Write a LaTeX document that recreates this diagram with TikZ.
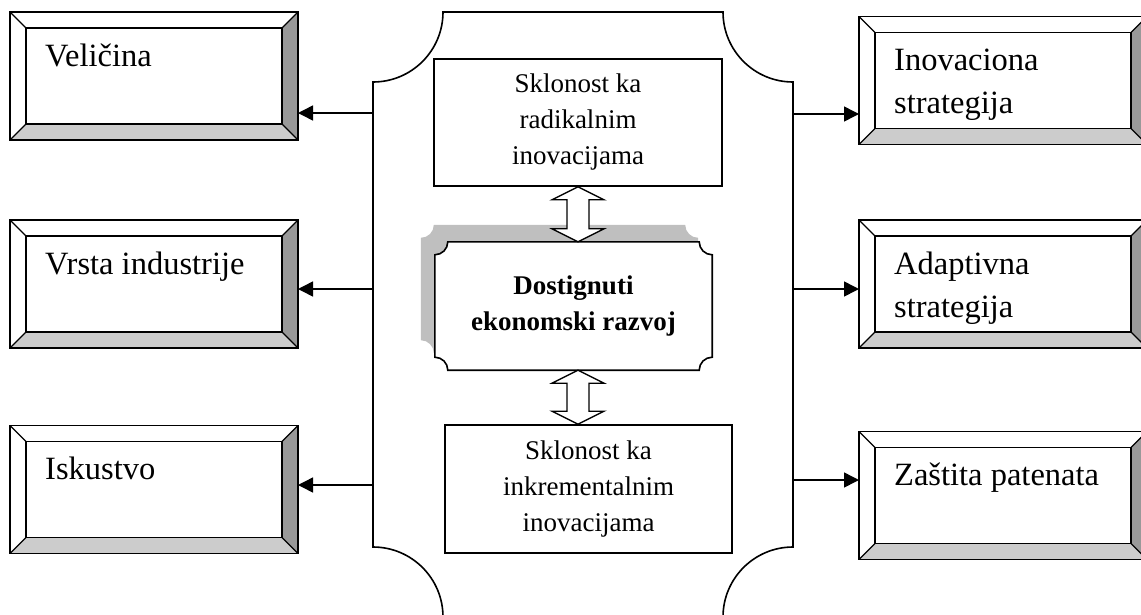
\documentclass[tikz,border=0pt]{standalone}
\usepackage{fontspec}
\setmainfont{Liberation Serif}
\usetikzlibrary{arrows.meta,backgrounds}

\definecolor{bevlight}{gray}{0.8}
\definecolor{bevdark}{gray}{0.6}
\definecolor{shadowgray}{gray}{0.75}

% concave cornered outline around a node, shifted by #3
\newcommand\scrollshape[3]{%
  \path[#1] ([shift={#3},xshift=13pt]#2.north west) -- ([shift={#3},xshift=-13pt]#2.north east)
    arc[start angle=180,end angle=270,radius=13pt]
    -- ([shift={#3},yshift=13pt]#2.south east)
    arc[start angle=90,end angle=180,radius=13pt]
    -- ([shift={#3},xshift=13pt]#2.south west)
    arc[start angle=0,end angle=90,radius=13pt]
    -- ([shift={#3},yshift=-13pt]#2.north west)
    arc[start angle=-90,end angle=0,radius=13pt] -- cycle;}

% hollow double arrow from top tip #1 to bottom tip #2
\newcommand\dblarrow[2]{%
  \filldraw[hollow] (#1) -- ++(26pt,-13pt) -- ++(-15pt,0pt) -- ([shift={(11pt,13pt)}]#2)
    -- ++(15pt,0pt) -- (#2) -- ++(-26pt,13pt) -- ++(15pt,0pt)
    -- ([shift={(-11pt,-13pt)}]#1) -- ++(-15pt,0pt) -- cycle;}

\tikzset{
  bevelbox/.style={draw, line width=1.6pt, minimum width=288pt, minimum height=128pt,
    inner sep=0pt, outer sep=0pt,
    path picture={
      \coordinate (bsw) at (path picture bounding box.south west);
      \coordinate (bne) at (path picture bounding box.north east);
      \coordinate (bse) at (bne |- bsw);
      \coordinate (bnw) at (bsw |- bne);
      \fill[bevdark] (bse) -- (bne) -- ++(-16pt,-16pt) -- ([shift={(-16pt,16pt)}]bse) -- cycle;
      \fill[bevlight] (bsw) -- (bse) -- ++(-16pt,16pt) -- ([shift={(16pt,16pt)}]bsw) -- cycle;
      \draw[line width=1.6pt] ([shift={(16pt,16pt)}]bsw) rectangle ([shift={(-16pt,-16pt)}]bne);
      \draw[line width=1.1pt] (bsw) -- ++(16pt,16pt) (bse) -- ++(-16pt,16pt)
        (bne) -- ++(-16pt,-16pt) (bnw) -- ++(16pt,-16pt);
    }},
  boxtext/.style={anchor=base west, align=left, inner sep=0pt,
    font=\fontsize{32.5}{43}\selectfont},
  plainbox/.style={draw, line width=1.6pt, align=center, inner sep=0pt,
    font=\fontsize{27}{36}\selectfont},
  scrolltext/.style={minimum width=277pt, minimum height=128pt, inner sep=0pt,
    align=center, font=\fontsize{27}{36}\selectfont\bfseries},
  hollow/.style={draw, fill=white, line width=1.3pt},
  frame/.style={draw, line width=1.6pt},
  conn/.style={line width=1.5pt, -{Triangle[length=15pt,width=15pt]}},
}

\begin{document}
\begin{tikzpicture}[x=1pt,y=-1pt]
\useasboundingbox (0,0) rectangle (1141,614);

% big frame
\draw[frame] (443,12) -- (723,12) arc[start angle=180,end angle=270,radius=70pt]
  -- (793,547) arc[start angle=90,end angle=180,radius=70pt]
  -- (443,617) arc[start angle=0,end angle=90,radius=70pt]
  -- (373,82) arc[start angle=-90,end angle=0,radius=70pt] -- cycle;

\coordinate (fl1) at (373,113);
\coordinate (fl2) at (373,289);
\coordinate (fl3) at (373,485);
\coordinate (fr1) at (793,114);
\coordinate (fr2) at (793,289);
\coordinate (fr3) at (793,480);

% left side
\node[bevelbox] (vel) at (154,76) {};
\node[bevelbox] (vrsta) at (154,284) {};
\node[bevelbox] (isk) at (154,489.5) {};
\node[boxtext] (velt) at ([shift={(35pt,-54pt)}]vel.north west) {Veličina};
\node[boxtext] (vrstat) at ([shift={(35pt,-54pt)}]vrsta.north west) {Vrsta industrije};
\node[boxtext] (iskt) at ([shift={(35pt,-54pt)}]isk.north west) {Iskustvo};

% right side (two lines: base is the last line)
\node[bevelbox] (inov) at (1003,80.5) {};
\node[bevelbox] (adapt) at (1003,284) {};
\node[bevelbox] (zast) at (1003,495.5) {};
\node[boxtext] (inovt) at ([shift={(35pt,-97pt)}]inov.north west) {Inovaciona\\strategija};
\node[boxtext] (adaptt) at ([shift={(35pt,-97pt)}]adapt.north west) {Adaptivna\\strategija};
\node[boxtext] (zastt) at ([shift={(35pt,-54pt)}]zast.north west) {Zaštita patenata};

% middle
\node[plainbox, minimum width=288pt, minimum height=127pt] (rad) at (578,122.5)
  {Sklonost ka\\radikalnim\\inovacijama};
\node[plainbox, minimum width=287pt, minimum height=128pt] (ink) at (588.5,489)
  {Sklonost ka\\inkrementalnim\\inovacijama};
\node[scrolltext] (dost) at (573.5,306) {Dostignuti\\ekonomski razvoj};

\begin{scope}[on background layer]
  \scrollshape{fill=shadowgray}{dost}{(-14pt,17pt)}
  \scrollshape{fill=white}{dost}{(0pt,0pt)}
\end{scope}
\scrollshape{draw, line width=1.6pt}{dost}{(0pt,0pt)}

\dblarrow{rad.south}{rad.south |- dost.north}
\dblarrow{rad.south |- dost.south}{rad.south |- ink.north}

\foreach \f/\b in {fl1/vel, fl2/vrsta, fl3/isk}
  \draw[conn] (\f) -- (\f -| \b.east);
\foreach \f/\b in {fr1/inov, fr2/adapt, fr3/zast}
  \draw[conn] (\f) -- (\f -| \b.west);
\end{tikzpicture}
\end{document}
